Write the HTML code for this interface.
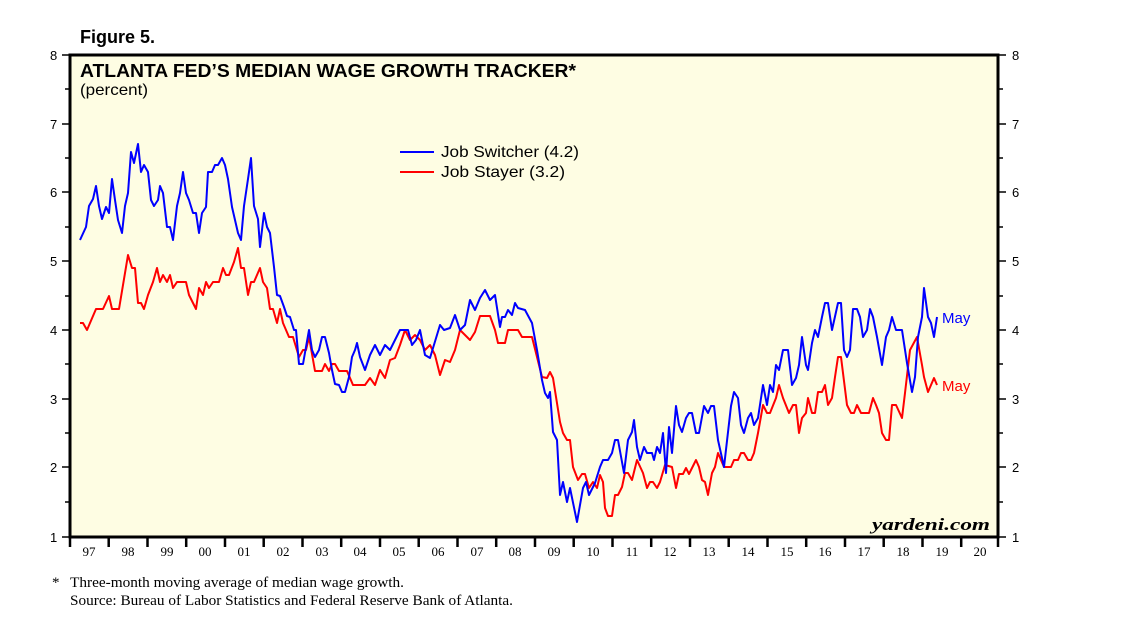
<!DOCTYPE html>
<html><head><style>
body{margin:0;background:#fff;width:1138px;height:621px;overflow:hidden}
svg{display:block}
.s{font-family:"Liberation Sans",sans-serif}
.r{font-family:"Liberation Serif",serif}
</style></head><body>
<svg width="1138" height="621" viewBox="0 0 1138 621" xmlns="http://www.w3.org/2000/svg">
<text x="80" y="43" class="s" font-size="18" font-weight="bold">Figure 5.</text>
<rect x="70" y="55" width="928" height="482" fill="#fefde3" stroke="#000" stroke-width="3"/>
<g stroke="#000" stroke-width="1.5">
<path d="M62 55H70M62 124H70M62 192H70M62 261H70M62 330H70M62 399H70M62 467H70M62 537H70
M65 89H70M65 158H70M65 227H70M65 296H70M65 364H70M65 433H70M65 502H70
M998 55H1006M998 124H1006M998 192H1006M998 261H1006M998 330H1006M998 399H1006M998 467H1006M998 537H1006
M998 89H1003M998 158H1003M998 227H1003M998 296H1003M998 364H1003M998 433H1003M998 502H1003"/>
</g>
<g class="s" font-size="13" fill="#000">
<text x="50" y="60">8</text><text x="50" y="129">7</text><text x="50" y="197">6</text><text x="50" y="266">5</text><text x="50" y="335">4</text><text x="50" y="404">3</text><text x="50" y="472">2</text><text x="50" y="542">1</text>
<text x="1012" y="60">8</text><text x="1012" y="129">7</text><text x="1012" y="197">6</text><text x="1012" y="266">5</text><text x="1012" y="335">4</text><text x="1012" y="404">3</text><text x="1012" y="472">2</text><text x="1012" y="542">1</text>
</g>
<g stroke="#000" stroke-width="2.5">
<path d="M70 537V547M108.7 537V547M147.5 537V547M186.2 537V547M225 537V547M263.7 537V547M302.5 537V547M341.2 537V547M380 537V547M418.7 537V547M457.5 537V547M496.2 537V547M535 537V547M573.7 537V547M612.5 537V547M651.2 537V547M690 537V547M728.7 537V547M767.5 537V547M806.2 537V547M845 537V547M883.7 537V547M922.5 537V547M961.2 537V547M998 537V547"/>
</g>
<g class="r" font-size="13" text-anchor="middle">
<text x="89" y="556">97</text><text x="128" y="556">98</text><text x="167" y="556">99</text><text x="205" y="556">00</text><text x="244" y="556">01</text><text x="283" y="556">02</text><text x="322" y="556">03</text><text x="360" y="556">04</text><text x="399" y="556">05</text><text x="438" y="556">06</text><text x="477" y="556">07</text><text x="515" y="556">08</text><text x="554" y="556">09</text><text x="593" y="556">10</text><text x="632" y="556">11</text><text x="670" y="556">12</text><text x="709" y="556">13</text><text x="748" y="556">14</text><text x="787" y="556">15</text><text x="825" y="556">16</text><text x="864" y="556">17</text><text x="903" y="556">18</text><text x="942" y="556">19</text><text x="980" y="556">20</text>
</g>
<text x="80" y="77" class="s" font-size="18" font-weight="bold" textLength="496" lengthAdjust="spacingAndGlyphs">ATLANTA FED’S MEDIAN WAGE GROWTH TRACKER*</text>
<text x="80" y="95" class="s" font-size="16" textLength="68" lengthAdjust="spacingAndGlyphs">(percent)</text>
<line x1="400" y1="152" x2="434" y2="152" stroke="#0000ff" stroke-width="2"/>
<line x1="400" y1="172" x2="434" y2="172" stroke="#ff0000" stroke-width="2"/>
<text x="441" y="157" class="s" font-size="16" textLength="138" lengthAdjust="spacingAndGlyphs">Job Switcher (4.2)</text>
<text x="441" y="177" class="s" font-size="16" textLength="124" lengthAdjust="spacingAndGlyphs">Job Stayer (3.2)</text>
<text x="872" y="530" class="r" font-size="17" font-style="italic" font-weight="bold" textLength="118" lengthAdjust="spacingAndGlyphs">yardeni.com</text>
<text x="942" y="323" class="s" font-size="15" fill="#0000ff">May</text>
<text x="942" y="391" class="s" font-size="15" fill="#ff0000">May</text>
<polyline fill="none" stroke="#ff0000" stroke-width="2" stroke-linejoin="round" points="80,323 83,323 87,330 96,309 103,309 109,296 112,309 119,309 128,255 132,268 135,268 138,303 141,303 144,309 148,295 153,282 157,268 160,282 163,275 167,282 170,275 173,288 177,282 186,282 189,295 196,309 199,288 203,295 206,282 209,288 213,282 219,282 223,268 226,275 229,275 234,262 238,248 241,268 244,268 248,295 251,282 254,282 260,268 263,282 267,288 270,309 273,309 277,323 280,309 283,323 289,337 293,337 299,357 303,350 306,350 309,337 315,371 322,371 325,364 329,371 332,364 335,364 339,371 347,371 353,385 360,385 365,385 370,378 375,385 380,370 385,378 390,360 395,358 400,345 405,330 410,340 415,335 420,340 425,350 430,345 435,355 440,375 445,360 450,362 455,350 460,330 465,335 470,340 475,332 480,316 490,316 495,330 498,343 505,343 508,330 518,330 522,337 532,337 537,357 542,377 547,378 550,372 553,378 560,422 563,433 567,440 570,440 573,467 578,480 582,474 585,474 589,488 593,482 597,488 600,475 603,482 605,508 608,516 612,516 615,495 618,495 622,487 625,473 628,473 632,480 637,460 643,473 647,488 650,482 653,482 657,488 660,482 665,465 672,467 676,488 679,474 683,474 686,468 689,474 696,460 699,467 702,480 705,482 708,495 712,473 715,467 718,453 724,467 731,467 734,460 738,460 741,453 744,453 748,460 751,460 754,453 758,433 763,405 767,413 770,413 776,398 779,385 783,398 789,413 793,405 796,405 799,433 802,418 806,413 808,398 812,413 815,413 818,392 822,392 825,385 828,405 832,398 835,377 838,357 841,357 847,405 851,413 854,413 857,405 861,413 869,413 873,398 876,405 879,413 882,433 886,440 889,440 892,405 896,405 902,418 905,393 910,350 917,337 922,365 924,377 928,392 934,378 937,385"/>
<polyline fill="none" stroke="#0000ff" stroke-width="2" stroke-linejoin="round" points="80,240 86,227 89,206 93,199 96,186 99,206 102,219 106,207 109,213 112,179 115,200 118,220 122,233 125,206 128,193 131,152 134,163 138,144 141,172 144,165 148,172 151,200 154,206 158,200 160,186 163,193 167,227 170,227 173,240 177,206 180,193 183,172 186,193 189,200 193,213 196,213 199,233 202,213 206,207 208,172 212,172 215,165 218,165 222,158 225,165 228,179 232,207 235,220 238,233 241,240 244,206 248,179 251,158 254,206 258,219 260,247 264,213 267,227 270,233 274,267 277,295 280,296 284,307 287,316 290,317 294,330 296,330 299,364 303,364 306,347 309,330 312,350 315,357 319,350 322,337 325,337 329,353 332,370 335,384 339,385 342,392 345,392 349,377 352,357 355,350 357,343 360,357 365,370 370,355 375,345 380,355 385,345 390,350 395,340 400,330 408,330 412,345 416,340 420,330 425,355 430,358 440,325 444,330 450,328 455,315 460,330 465,325 470,300 475,310 480,298 485,290 490,300 495,295 500,327 502,317 505,317 508,310 512,315 515,303 518,308 525,310 532,323 537,350 542,380 545,393 548,398 550,392 553,432 557,440 560,495 563,482 567,502 570,488 577,522 583,488 586,482 589,495 595,483 600,467 603,460 608,460 612,453 615,440 618,440 624,473 628,440 632,432 634,420 637,447 640,460 644,447 647,453 652,453 654,460 657,447 660,453 663,433 666,473 669,427 672,453 676,406 679,425 682,432 686,418 689,413 692,413 696,433 699,433 704,406 708,413 711,406 714,406 718,440 724,467 731,406 734,392 738,398 741,425 744,433 748,418 751,413 754,425 758,418 763,385 767,405 770,385 773,392 776,365 779,370 783,350 788,350 792,385 796,378 799,365 802,337 806,365 808,370 812,343 815,330 818,337 822,317 825,303 828,303 832,330 838,303 841,303 844,350 847,357 850,350 853,309 857,309 860,317 863,337 867,330 870,309 873,317 877,337 882,365 886,337 889,330 892,317 896,330 902,330 907,363 912,392 915,377 918,337 922,317 924,288 928,317 931,323 934,337 937,317"/>
<text x="52" y="587" class="r" font-size="15">*</text>
<text x="70" y="587" class="r" font-size="15" textLength="334" lengthAdjust="spacingAndGlyphs">Three-month moving average of median wage growth.</text>
<text x="70" y="605" class="r" font-size="15" textLength="443" lengthAdjust="spacingAndGlyphs">Source: Bureau of Labor Statistics and Federal Reserve Bank of Atlanta.</text>
</svg>
</body></html>
